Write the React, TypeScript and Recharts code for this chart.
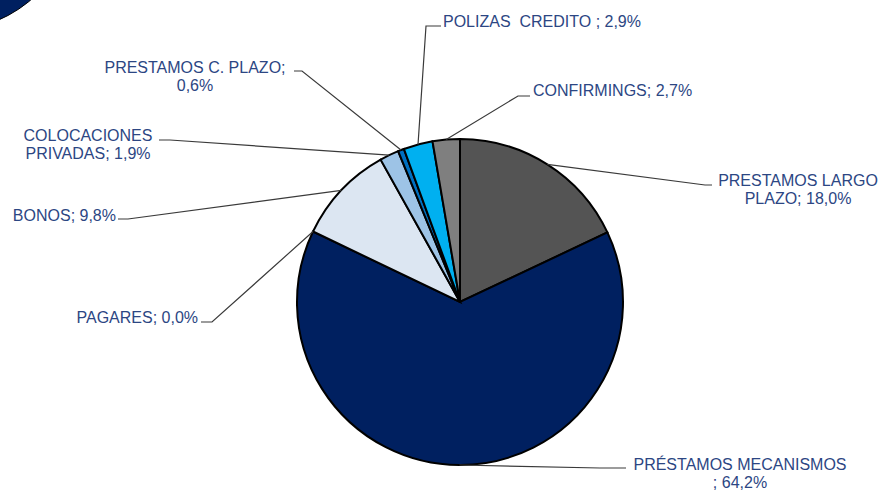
import * as React from "react";
import { PieChart, Pie, Cell } from "recharts";

const categories = [
    "PRESTAMOS LARGO PLAZO",
    "PRÉSTAMOS MECANISMOS ",
    "PAGARES",
    "BONOS",
    "COLOCACIONES PRIVADAS",
    "PRESTAMOS C. PLAZO",
    "POLIZAS  CREDITO ",
    "CONFIRMINGS",
];
const shares = [18.0, 64.2, 0.0, 9.8, 1.9, 0.6, 2.9, 2.7];
const sliceColors = [
    "#545454", "#002060", "#4472C4", "#DCE6F2",
    "#9DC3E6", "#0070C0", "#00B0F0", "#7F7F7F",
];

// where each callout goes (elbow of leader line, end of line, text spot)
const labelLayout = [
    { elbow: [705, 185], end: [712, 185], anchor: "middle", tx: 798, ty: 186, br: 15 },
    { elbow: [600, 468], end: [626, 468], anchor: "middle", tx: 740, ty: 470, br: 20 },
    { elbow: [212, 322], end: [201, 322], anchor: "end", tx: 198, ty: 323, br: 0 },
    { elbow: [128, 219], end: [118, 219], anchor: "end", tx: 116, ty: 221, br: 0 },
    { elbow: [170, 140], end: [159, 140], anchor: "middle", tx: 88, ty: 141, br: 12 },
    { elbow: [302, 71], end: [294, 71], anchor: "middle", tx: 195, ty: 73, br: 19 },
    { elbow: [426, 26], end: [441, 26], anchor: "start", tx: 443, ty: 27, br: 0 },
    { elbow: [518, 96], end: [530, 96], anchor: "start", tx: 533, ty: 96, br: 0 },
];

const data = categories.map((name, i) => ({ name, value: shares[i] }));

const RAD = Math.PI / 180;
const fmt = (v: number) => v.toFixed(1).replace(".", ",") + "%";

const renderLabel = (props: any) => {
    const { cx, cy, midAngle, outerRadius, index } = props;
    const lay = labelLayout[index];
    if (!lay) return null;
    const sx = cx + outerRadius * Math.cos(-midAngle * RAD);
    const sy = cy + outerRadius * Math.sin(-midAngle * RAD);
    const text = categories[index] + "; " + fmt(shares[index]);
    const lines = lay.br > 0 ? [text.slice(0, lay.br), text.slice(lay.br).trim()] : [text];
    return (
        <g key={"lbl" + index}>
            <polyline
                points={`${sx},${sy} ${lay.elbow[0]},${lay.elbow[1]} ${lay.end[0]},${lay.end[1]}`}
                fill="none" stroke="#3a3a3a" strokeWidth={1.2}
            />
            <text x={lay.tx} y={lay.ty} textAnchor={lay.anchor as any}
                fill="#2C4683" fontSize={16} fontFamily="'Liberation Sans', Arial, sans-serif"
                style={{ whiteSpace: "pre" }}>
                {lines.map((l, k) => (
                    <tspan key={k} x={lay.tx} dy={k === 0 ? 0 : 18}>{l}</tspan>
                ))}
            </text>
        </g>
    );
};

export default function App() {
    return (
        <div style={{ position: "absolute", left: 0, top: 0, width: 884, height: 491, background: "#fff", overflow: "hidden" }}>
            <div style={{
                position: "absolute", left: -180, top: -225, width: 254, height: 254,
                borderRadius: "50%", background: "#002060", border: "1px solid #000",
            }} />
            <div style={{ position: "absolute", left: 0, top: 0 }}>
                <PieChart width={884} height={491} margin={{ top: 0, right: 0, bottom: 0, left: 0 }}>
                    <Pie
                        data={data} dataKey="value" nameKey="name"
                        cx={460} cy={302} outerRadius={163}
                        startAngle={90} endAngle={-270}
                        stroke="#000" strokeWidth={2}
                        label={renderLabel} labelLine={false}
                        isAnimationActive={false}
                    >
                        {data.map((d, i) => (
                            <Cell key={d.name} fill={sliceColors[i]} />
                        ))}
                    </Pie>
                </PieChart>
            </div>
        </div>
    );
}
